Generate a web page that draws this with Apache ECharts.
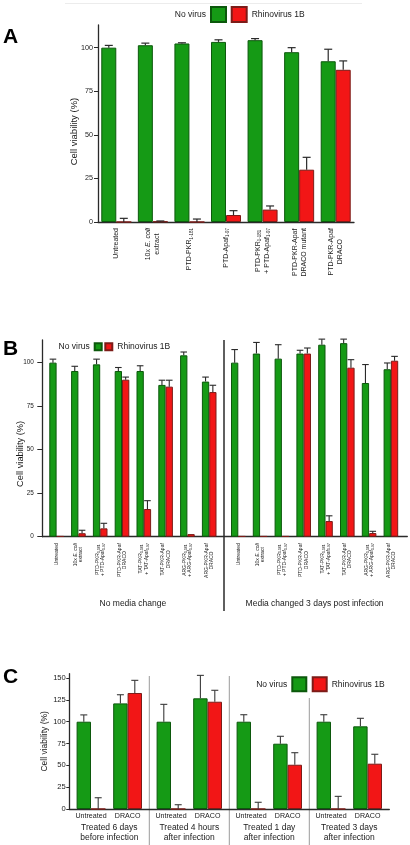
<!DOCTYPE html>
<html><head><meta charset="utf-8">
<script src="https://cdn.jsdelivr.net/npm/echarts@6/dist/echarts.min.js"></script>
<style>html,body{margin:0;padding:0;background:#fff}#c{width:410px;height:845px}</style>
</head><body><div id="c"></div>
<script>
// ---------- DATA ----------
// Panel A
const catsA = ['Untreated', '10x *E. coli*\nextract', 'PTD-PKR_{1-181}', 'PTD-Apaf_{1-97}',
  'PTD-PKR_{1-181}\n+ PTD-Apaf_{1-97}', 'PTD-PKR-Apaf\nDRACO mutant', 'PTD-PKR-Apaf\nDRACO'];
const noVirusA = [100, 101.4, 102.4, 103.3, 104.3, 97.4, 92.2];
const noVirusErrA = [1.3, 1.2, 0.4, 1.2, 0.9, 2.6, 6.9];
const rhinoA = [0, 0.3, 0, 4.0, 7.1, 30, 87.3];
const rhinoErrA = [2.1, 0.3, 1.7, 2.5, 2.1, 7.1, 5.1];

// Panel B
const catsB = ['Untreated', '10x *E. coli*\nextract', 'PTD-PKR_{1-181}\n+ PTD-Apaf_{1-97}', 'PTD-PKR-Apaf\nDRACO',
  'TAT-PKR_{1-181}\n+ TAT-Apaf_{1-97}', 'TAT-PKR-Apaf\nDRACO', 'ARG-PKR_{1-181}\n+ ARG-Apaf_{1-97}', 'ARG-PKR-Apaf\nDRACO'];
const groupsB = ['No media change', 'Media changed 3 days post infection'];
const noVirusB1 = [100, 95.2, 99, 95.2, 95.2, 87.2, 104.2, 89.1];
const noVirusErrB1 = [2, 2.7, 3, 2, 3, 2.7, 1.9, 2.6];
const rhinoB1 = [0.3, 2, 4.8, 90.2, 15.9, 86.2, 1.5, 83.1];
const rhinoErrB1 = [0, 1.7, 2.9, 1.5, 4.8, 3.7, 0, 3.9];
const noVirusB2 = [100, 105.2, 102.3, 105.2, 110.3, 111.2, 88.3, 96.2];
const noVirusErrB2 = [7.5, 6.4, 8, 1.9, 3.2, 2.3, 10.6, 3.6];
const rhinoB2 = [0.3, 0.3, 0.3, 105.2, 9, 97.1, 2.1, 101.1];
const rhinoErrB2 = [0, 0, 0, 3.2, 3, 4.6, 1, 2.5];

// Panel C
const catsC = ['Untreated', 'DRACO'];
const groupsC = ['Treated 6 days\nbefore infection', 'Treated 4 hours\nafter infection',
  'Treated 1 day\nafter infection', 'Treated 3 days\nafter infection'];
const noVirusC = [[100, 121], [100, 126.8], [100, 74.8], [100, 94.7]];
const noVirusErrC = [[7.8, 9.9], [19.9, 26.3], [8, 8.5], [8, 9.2]];
const rhinoC = [[0, 132.9], [0, 122.9], [0, 50.7], [0, 51.9]];
const rhinoErrC = [[12.9, 14.5], [4.9, 13.1], [7.7, 13.8], [14.5, 10.8]];

const seriesNames = ['No virus', 'Rhinovirus 1B'];
const yTitle = 'Cell viability (%)';

// ---------- STYLE ----------
const FONT = 'Liberation Sans, Arial, Helvetica, sans-serif';
const TXT = '#1a1a1a', AX = '#2a2a2a';
const GREEN = '#159a15', GREEN_B = '#0c580c', RED = '#f21616', RED_B = '#7c1c18';

function richLabel(s) {
  return String(s).split('\n').map(line => {
    let out = ''; const re = /_\{([^}]*)\}|\*([^*]*)\*|([^_*]+)/g; let m;
    while ((m = re.exec(line))) {
      if (m[1] !== undefined) out += '{s|' + m[1] + '}';
      else if (m[2] !== undefined) out += '{i|' + m[2] + '}';
      else out += '{n|' + m[3] + '}';
    }
    return out;
  }).join('\n');
}
function richFor(fs, lh, sfs) {
  return {
    n: {fontSize: fs, lineHeight: lh, align: 'center', verticalAlign: 'middle', color: TXT, fontFamily: FONT},
    i: {fontSize: fs, lineHeight: lh, align: 'center', verticalAlign: 'middle', color: TXT, fontFamily: FONT, fontStyle: 'italic'},
    s: {fontSize: sfs, align: 'center', verticalAlign: 'bottom', color: TXT, fontFamily: FONT}
  };
}

const grid = [], xAxis = [], yAxis = [], series = [];

function valueY(gi, max, show, opts) {
  return Object.assign({
    gridIndex: gi, type: 'value', min: 0, max: max, interval: 25, show: show,
    splitLine: {show: false},
    axisLine: {show: true, lineStyle: {color: AX, width: 1.3}},
    axisTick: {show: true, length: 3, lineStyle: {color: AX, width: 1}},
    axisLabel: {showMaxLabel: false, color: TXT, fontFamily: FONT,
      formatter: v => (v % 25 === 0 ? String(v) : '')},
    nameLocation: 'middle', nameMoveOverlap: false
  }, opts || {});
}
function catX(gi, cats, labelOpts, extra) {
  return Object.assign({
    gridIndex: gi, type: 'category', data: cats,
    axisLine: {show: false}, axisTick: {show: false}, splitLine: {show: false},
    nameMoveOverlap: false,
    axisLabel: Object.assign({interval: 0, hideOverlap: false, formatter: richLabel}, labelOpts)
  }, extra || {});
}
function baseX(gi) {
  return {gridIndex: gi, type: 'value', min: 0, max: 1, splitLine: {show: false},
    axisLine: {show: true, onZero: false, lineStyle: {color: AX, width: 1.3}},
    axisTick: {show: false}, axisLabel: {show: false}};
}
function bars(xi, yi, vals, idx, bw) {
  return {type: 'bar', name: seriesNames[idx], xAxisIndex: xi, yAxisIndex: yi, data: vals,
    barWidth: bw, barGap: '0%',
    itemStyle: {color: idx ? RED : GREEN, borderColor: idx ? RED_B : GREEN_B, borderWidth: 1}};
}
function errs(xi, yi, vals, es, off, cap, color, lw) {
  return {type: 'custom', name: 'err', xAxisIndex: xi, yAxisIndex: yi, clip: false, z: 5, silent: true,
    data: vals.map((v, i) => [i, v, es[i]]), encode: {x: 0, y: 1},
    renderItem(params, api) {
      const i = api.value(0), v = api.value(1), e = api.value(2);
      if (!(e > 0)) return {type: 'group', children: []};
      const p0 = api.coord([i, v]), p1 = api.coord([i, v + e]);
      const cx = p0[0] + off;
      const st = {stroke: color, lineWidth: lw};
      return {type: 'group', children: [
        {type: 'line', shape: {x1: cx, y1: p0[1], x2: cx, y2: p1[1]}, style: st},
        {type: 'line', shape: {x1: cx - cap, y1: p1[1], x2: cx + cap, y2: p1[1]}, style: st}
      ]};
    }};
}

// ---------- PANEL A ----------
const A = {left: 98, top: 25, width: 256, height: 197, max: 113, bw: 15};
grid.push({left: A.left, top: A.top, width: A.width, height: A.height});
xAxis.push(catX(0, catsA, {rotate: 90, margin: 6, rich: richFor(7, 9, 4.5)},
  {axisLine: {show: true, lineStyle: {color: AX, width: 1.3}}}));
yAxis.push(valueY(0, A.max, true, {
  axisTick: {show: true, length: 4, lineStyle: {color: AX, width: 1}},
  axisLabel: {showMaxLabel: false, color: TXT, fontFamily: FONT, fontSize: 7.2, margin: 5,
    formatter: v => (v % 25 === 0 ? String(v) : '')},
  name: yTitle, nameGap: 19,
  nameTextStyle: {fontSize: 9.5, color: TXT, fontFamily: FONT, padding: [0, 16, 0, 0]}
}));
series.push(bars(0, 0, noVirusA, 0, A.bw), bars(0, 0, rhinoA, 1, A.bw),
  errs(0, 0, noVirusA, noVirusErrA, -A.bw / 2, 4, AX, 1.2),
  errs(0, 0, rhinoA, rhinoErrA, A.bw / 2, 4, AX, 1.2));

// ---------- PANEL B ----------
const B = {left: 42.3, top: 340, width: 365, height: 196.7, max: 113, bw: 7.3,
  g1: 45.7, g2: 227.4, gw: 174.4, divX: 224};
grid.push({left: B.left, top: B.top, width: B.width, height: B.height});          // 1 overlay
grid.push({left: B.g1, top: B.top, width: B.gw, height: B.height});              // 2
grid.push({left: B.g2, top: B.top, width: B.gw, height: B.height});              // 3
xAxis.push(baseX(1));
yAxis.push(valueY(1, B.max, true, {
  axisTick: {show: true, length: 5, lineStyle: {color: AX, width: 1}},
  axisLabel: {showMaxLabel: false, color: TXT, fontFamily: FONT, fontSize: 6.4, margin: 8.5,
    formatter: v => (v % 25 === 0 ? String(v) : '')},
  name: yTitle, nameGap: 17,
  nameTextStyle: {fontSize: 9.3, color: TXT, fontFamily: FONT, padding: [0, 31, 0, 0]}
}));
[2, 3].forEach((gi, k) => {
  xAxis.push(catX(gi, catsB, {rotate: 90, margin: 6.5, rich: richFor(5, 5.4, 3.4)}, {
    name: groupsB[k], nameLocation: 'middle', nameGap: 62,
    nameTextStyle: {fontSize: 8.5, color: TXT, fontFamily: FONT}
  }));
  yAxis.push(valueY(gi, B.max, false));
});
series.push(bars(2, 2, noVirusB1, 0, B.bw), bars(2, 2, rhinoB1, 1, B.bw),
  errs(2, 2, noVirusB1, noVirusErrB1, -B.bw / 2, 3.3, AX, 1.1),
  errs(2, 2, rhinoB1, rhinoErrB1, B.bw / 2, 3.3, AX, 1.1),
  bars(3, 3, noVirusB2, 0, B.bw), bars(3, 3, rhinoB2, 1, B.bw),
  errs(3, 3, noVirusB2, noVirusErrB2, -B.bw / 2, 3.3, AX, 1.1),
  errs(3, 3, rhinoB2, rhinoErrB2, B.bw / 2, 3.3, AX, 1.1));

// ---------- PANEL C ----------
const C = {left: 69.3, top: 673.7, gW: 80, pad: 3.4, height: 135.3, max: 155, bw: 14.4};
grid.push({left: C.left, top: C.top, width: C.gW * 4, height: C.height});          // 4 overlay
xAxis.push(baseX(4));
yAxis.push(valueY(4, C.max, true, {
  axisLabel: {showMaxLabel: false, color: TXT, fontFamily: FONT, fontSize: 7.6, margin: 3.5,
    formatter: v => (v % 25 === 0 ? String(v) : '')},
  name: yTitle, nameGap: 20,
  nameTextStyle: {fontSize: 8.5, color: TXT, fontFamily: FONT}
}));
groupsC.forEach((g, k) => {
  const gi = 5 + k;
  grid.push({left: C.left + C.gW * k + C.pad, top: C.top, width: C.gW - 2 * C.pad, height: C.height});
  xAxis.push(catX(gi, catsC, {margin: 3.5, color: TXT, fontFamily: FONT, fontSize: 7.1,
    formatter: v => v}, {
    name: g, nameLocation: 'middle', nameGap: 13,
    nameTextStyle: {fontSize: 8.5, lineHeight: 10.7, color: TXT, fontFamily: FONT}
  }));
  yAxis.push(valueY(gi, C.max, false));
  series.push(bars(gi, gi, noVirusC[k], 0, C.bw), bars(gi, gi, rhinoC[k], 1, C.bw),
    errs(gi, gi, noVirusC[k], noVirusErrC[k], -C.bw / 2, 3.5, '#3a3a3a', 1.1),
    errs(gi, gi, rhinoC[k], rhinoErrC[k], C.bw / 2, 3.5, '#3a3a3a', 1.1));
});

// ---------- LEGENDS ----------
function legendPair(y, sz, rightEdge, leftStart, lh) {
  const ts = {fontSize: 8.5, lineHeight: lh, color: TXT, fontFamily: FONT};
  return [
    {data: [seriesNames[0]], align: 'right', right: 410 - rightEdge, top: y, padding: 0,
      itemWidth: sz, itemHeight: sz, icon: 'rect', selectedMode: false, textStyle: ts},
    {data: [seriesNames[1]], align: 'left', left: leftStart, top: y, padding: 0,
      itemWidth: sz, itemHeight: sz, icon: 'rect', selectedMode: false, textStyle: ts}
  ];
}
const legend = [].concat(
  legendPair(6, 15, 227, 230.7, 15),
  legendPair(341.7, 7, 102.7, 104.3, 10),
  legendPair(676.3, 14, 307.3, 311.7, 14)
);

// ---------- TITLES & DECOR ----------
const titleStyle = {fontSize: 21, fontWeight: 'bold', color: '#000', fontFamily: FONT};
const title = [
  {text: 'A', left: 3, top: 27, padding: 0, textStyle: titleStyle},
  {text: 'B', left: 3, top: 338.5, padding: 0, textStyle: titleStyle},
  {text: 'C', left: 3, top: 667, padding: 0, textStyle: titleStyle}
];
const graphic = [
  {type: 'line', shape: {x1: 65, y1: 3.5, x2: 362, y2: 3.5}, style: {stroke: '#ececec', lineWidth: 1}},
  {type: 'line', shape: {x1: B.divX, y1: B.top, x2: B.divX, y2: 611}, style: {stroke: AX, lineWidth: 1.5}},
  {type: 'line', shape: {x1: C.left + C.gW, y1: 676, x2: C.left + C.gW, y2: 845}, style: {stroke: '#9a9a9a', lineWidth: 1}},
  {type: 'line', shape: {x1: C.left + 2 * C.gW, y1: 676, x2: C.left + 2 * C.gW, y2: 845}, style: {stroke: '#9a9a9a', lineWidth: 1}},
  {type: 'line', shape: {x1: C.left + 3 * C.gW, y1: 698, x2: C.left + 3 * C.gW, y2: 845}, style: {stroke: '#9a9a9a', lineWidth: 1}}
];

const chart = echarts.init(document.getElementById('c'), null, {renderer: 'canvas'});
chart.setOption({
  animation: false, backgroundColor: '#fff',
  textStyle: {fontFamily: FONT},
  title, legend, grid, xAxis, yAxis, series, graphic
});
</script></body></html>
